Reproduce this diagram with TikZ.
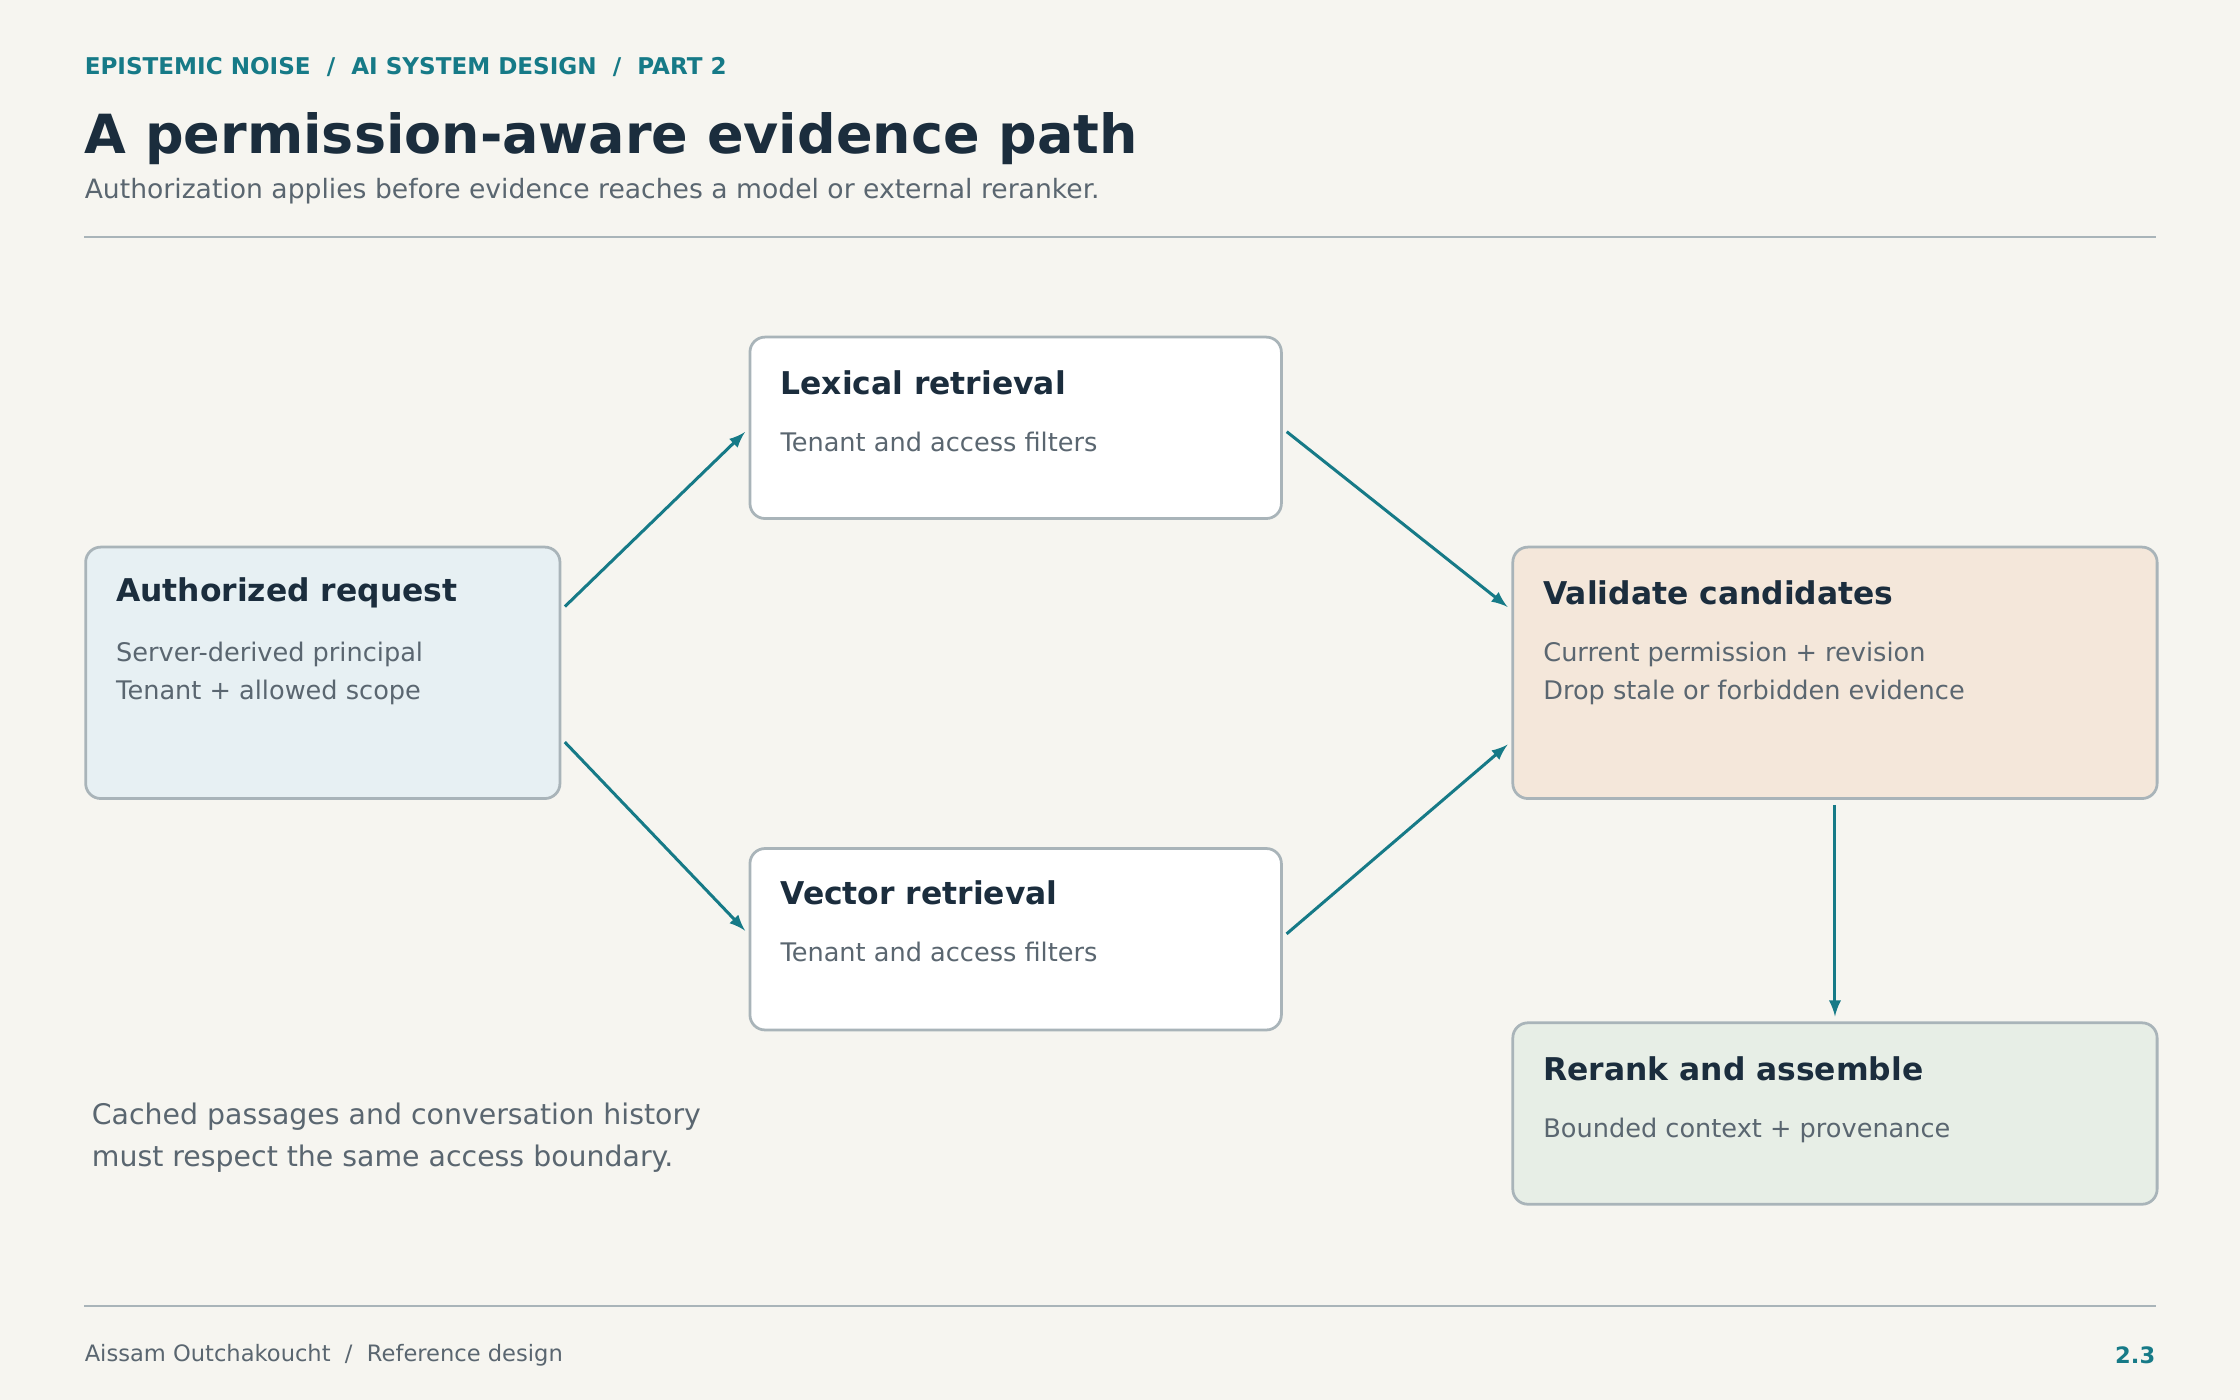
\documentclass[tikz,border=0pt]{standalone}
\usepackage{fontspec}
\setmainfont{DejaVu Sans}
\usetikzlibrary{positioning}
\definecolor{paper}{HTML}{F6F5F0}
\definecolor{ink}{HTML}{1B2D3D}
\definecolor{muted}{HTML}{5A6670}
\definecolor{teal}{HTML}{167A87}
\definecolor{edge}{HTML}{A9B4B9}
\definecolor{bluebg}{HTML}{E7F0F3}
\definecolor{sandbg}{HTML}{F4E7DA}
\definecolor{sagebg}{HTML}{E7EEE6}
\tikzset{
  box/.style={draw=edge, line width=1.1pt, rounded corners=6pt, anchor=north west, inner sep=0pt},
  head/.style={anchor=west, text=ink, font=\fontsize{12.5}{15}\selectfont\bfseries, inner sep=0pt},
  body/.style={anchor=north west, text=muted, font=\fontsize{10.2}{15.3}\selectfont, align=left, inner sep=0pt},
  flow/.style={-latex, draw=teal, line width=1.2pt, shorten >=2pt, shorten <=2pt},
}
\begin{document}
\begin{tikzpicture}[x=0.02cm, y=-0.02cm]
  \fill[paper] (0,0) rectangle (1568,980);
  \useasboundingbox (0,0) rectangle (1568,980);

  % header
  \node[anchor=west, inner sep=0pt, text=teal, font=\fontsize{9.2}{11}\selectfont\bfseries] (kicker) at (59,47)
    {EPISTEMIC NOISE \ / \ AI SYSTEM DESIGN \ / \ PART 2};
  \node[anchor=west, inner sep=0pt, text=ink, font=\fontsize{21.5}{25}\selectfont\bfseries] (title) at (59,97)
    {A permission-aware evidence path};
  \node[anchor=west, inner sep=0pt, text=muted, font=\fontsize{10.6}{13}\selectfont] (subtitle) at (59,134)
    {Authorization applies before evidence reaches a model or external reranker.};
  \draw[edge, line width=0.8pt] (59,166) -- (1509,166);

  % boxes
  \node[box, fill=bluebg, minimum width=332*0.02cm, minimum height=176*0.02cm] (auth) at (59,382) {};
  \node[box, fill=white, minimum width=372*0.02cm, minimum height=127*0.02cm] (lex) at (524,235) {};
  \node[box, fill=white, minimum width=372*0.02cm, minimum height=127*0.02cm] (vec) at (524,593) {};
  \node[box, fill=sandbg, minimum width=451*0.02cm, minimum height=176*0.02cm] (valid) at (1058,382) {};
  \node[box, fill=sagebg, minimum width=451*0.02cm, minimum height=127*0.02cm] (rerank) at (1058,715) {};

  % box texts
  \node[head] at (81,415) {Authorized request};
  \node[body] at (81,449) {Server-derived principal\\Tenant + allowed scope};
  \node[head] at (546,268) {Lexical retrieval};
  \node[body] at (546,302) {Tenant and access filters};
  \node[head] at (546,625) {Vector retrieval};
  \node[body] at (546,659) {Tenant and access filters};
  \node[head] at (1080,415) {Validate candidates};
  \node[body] at (1080,449) {Current permission + revision\\Drop stale or forbidden evidence};
  \node[head] at (1080,748) {Rerank and assemble};
  \node[body] at (1080,782) {Bounded context + provenance};

  % connectors
  \draw[flow] ([yshift=-45*0.02cm]auth.north east) -- ([yshift=-65*0.02cm]lex.north west);
  \draw[flow] ([yshift=43*0.02cm]auth.south east) -- ([yshift=-61*0.02cm]vec.north west);
  \draw[flow] ([yshift=-65*0.02cm]lex.north east) -- ([yshift=-45*0.02cm]valid.north west);
  \draw[flow] ([yshift=-63*0.02cm]vec.north east) -- ([yshift=41*0.02cm]valid.south west);
  \draw[flow] (valid.south) -- (rerank.north);

  % note
  \node[anchor=north west, inner sep=0pt, text=muted, align=left, font=\fontsize{11.3}{16.5}\selectfont] (note) at (64,772)
    {Cached passages and conversation history\\must respect the same access boundary.};

  % footer
  \draw[edge, line width=0.8pt] (59,914) -- (1509,914);
  \node[anchor=west, inner sep=0pt, text=muted, font=\fontsize{9}{11}\selectfont] (credit) at (59,949)
    {Aissam Outchakoucht \ / \ Reference design};
  \node[anchor=east, inner sep=0pt, text=teal, font=\fontsize{9}{11}\selectfont\bfseries] (page) at (1509,949) {2.3};
\end{tikzpicture}
\end{document}
